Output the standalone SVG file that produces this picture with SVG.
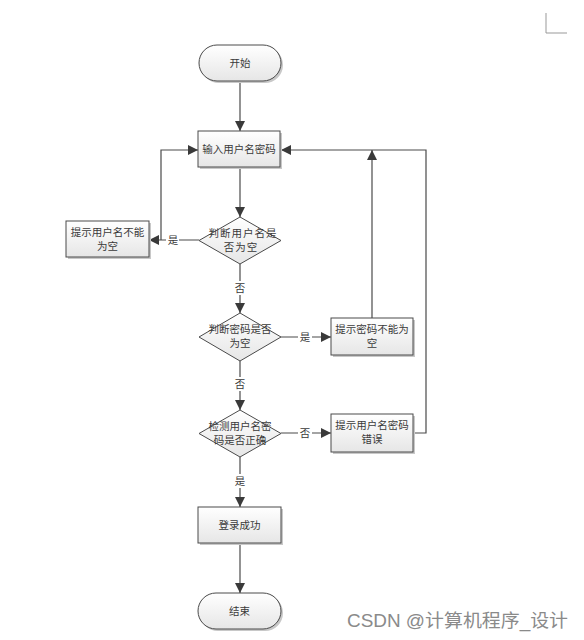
<svg xmlns="http://www.w3.org/2000/svg" width="584" height="640" viewBox="0 0 584 640">
<defs>
<linearGradient id="g" x1="0" y1="0" x2="0" y2="1">
<stop offset="0" stop-color="#ffffff"/>
<stop offset="1" stop-color="#e6e6e6"/>
</linearGradient>
<marker id="ah" viewBox="0 0 10 10" refX="10" refY="5" markerWidth="10" markerHeight="10" markerUnits="userSpaceOnUse" orient="auto">
<path d="M0,0 L10,5 L0,10 Z" fill="#3a3a3a"/>
</marker>
</defs>
<style>
.shape{fill:url(#g);stroke:#4a4a4a;stroke-width:1}
.shadow{fill:#c8c8c8;stroke:none}
.t{font-family:"Noto Sans CJK SC","Liberation Sans",sans-serif;font-size:10.5px;fill:#3a3a3a;text-anchor:middle}
.lbl{font-family:"Noto Sans CJK SC","Liberation Sans",sans-serif;font-size:10.5px;fill:#3a3a3a;text-anchor:middle}
.c{fill:none;stroke:#4a4a4a;stroke-width:1.2}
.lb{fill:#fff}
</style>
<rect width="584" height="640" fill="#fff"/>
<path d="M546,13 V33 H567" fill="none" stroke="#999" stroke-width="1"/>

<g id="connectors">
<line class="c" x1="240" y1="81" x2="240" y2="131" marker-end="url(#ah)"/>
<line class="c" x1="240" y1="167" x2="240" y2="217" marker-end="url(#ah)"/>
<line class="c" x1="199" y1="240" x2="149" y2="240" marker-end="url(#ah)"/>
<polyline class="c" points="161,240 161,150 198,150" marker-end="url(#ah)"/>
<line class="c" x1="240" y1="264" x2="240" y2="313" marker-end="url(#ah)"/>
<line class="c" x1="281" y1="337" x2="331" y2="337" marker-end="url(#ah)"/>
<line class="c" x1="372" y1="318" x2="372" y2="150" marker-end="url(#ah)"/>
<polyline class="c" points="413,433 426,433 426,150 281,150" marker-end="url(#ah)"/>
<line class="c" x1="240" y1="361" x2="240" y2="410" marker-end="url(#ah)"/>
<line class="c" x1="281" y1="433" x2="331" y2="433" marker-end="url(#ah)"/>
<line class="c" x1="240" y1="457" x2="240" y2="507" marker-end="url(#ah)"/>
<line class="c" x1="240" y1="543" x2="240" y2="593" marker-end="url(#ah)"/>
<rect class="lb" x="166" y="233" width="13" height="14"/>
<text class="lbl" x="173" y="244">是</text>
<rect class="lb" x="233" y="281" width="14" height="14"/>
<text class="lbl" x="240" y="292">否</text>
<rect class="lb" x="298" y="330" width="14" height="14"/>
<text class="lbl" x="305" y="341">是</text>
<rect class="lb" x="233" y="377" width="14" height="14"/>
<text class="lbl" x="240" y="388">否</text>
<rect class="lb" x="298" y="426" width="14" height="14"/>
<text class="lbl" x="305" y="437">否</text>
<rect class="lb" x="233" y="474" width="14" height="14"/>
<text class="lbl" x="240" y="485">是</text>
</g>

<g id="start">
<rect class="shadow" x="201" y="47" width="82" height="36" rx="18"/>
<rect class="shape" x="199" y="45" width="82" height="36" rx="18"/>
<text class="t" x="240" y="67">开始</text>
</g>

<g id="input">
<rect class="shadow" x="200" y="133" width="82" height="36"/>
<rect class="shape" x="198" y="131" width="82" height="36"/>
<text class="t" x="239" y="153">输入用户名密码</text>
</g>

<g id="check-user">
<polygon class="shape" points="240,217 281,240.5 240,264 199,240.5"/>
<text class="t" x="243" y="237" letter-spacing="1">判断用户名是</text>
<text class="t" x="241" y="251" letter-spacing="1">否为空</text>
</g>

<g id="user-empty">
<rect class="shadow" x="68" y="223" width="83" height="36"/>
<rect class="shape" x="66" y="221" width="83" height="36"/>
<text class="t" x="107.5" y="236">提示用户名不能</text>
<text class="t" x="107.5" y="250">为空</text>
</g>

<g id="check-pwd">
<polygon class="shape" points="240,313 281,337 240,361 199,337"/>
<text class="t" x="240" y="333">判断密码是否</text>
<text class="t" x="240" y="347">为空</text>
</g>

<g id="pwd-empty">
<rect class="shadow" x="333" y="320" width="82" height="37"/>
<rect class="shape" x="331" y="318" width="82" height="37"/>
<text class="t" x="372" y="333">提示密码不能为</text>
<text class="t" x="372" y="347">空</text>
</g>

<g id="check-both">
<polygon class="shape" points="240,410 281,433.5 240,457 199,433.5"/>
<text class="t" x="240" y="430">检测用户名密</text>
<text class="t" x="240" y="444">码是否正确</text>
</g>

<g id="wrong">
<rect class="shadow" x="333" y="416" width="82" height="38"/>
<rect class="shape" x="331" y="414" width="82" height="38"/>
<text class="t" x="372" y="429">提示用户名密码</text>
<text class="t" x="372" y="443">错误</text>
</g>

<g id="success">
<rect class="shadow" x="200" y="509" width="83" height="36"/>
<rect class="shape" x="198" y="507" width="83" height="36"/>
<text class="t" x="239.5" y="529">登录成功</text>
</g>

<g id="end">
<rect class="shadow" x="200" y="595" width="83" height="36" rx="18"/>
<rect class="shape" x="198" y="593" width="83" height="36" rx="18"/>
<text class="t" x="239.5" y="615">结束</text>
</g>

<text x="347" y="627" font-family="'Liberation Sans','Noto Sans CJK SC',sans-serif" font-size="18" fill="#8a8a8a" textLength="221" lengthAdjust="spacingAndGlyphs">CSDN @计算机程序_设计</text>
</svg>
